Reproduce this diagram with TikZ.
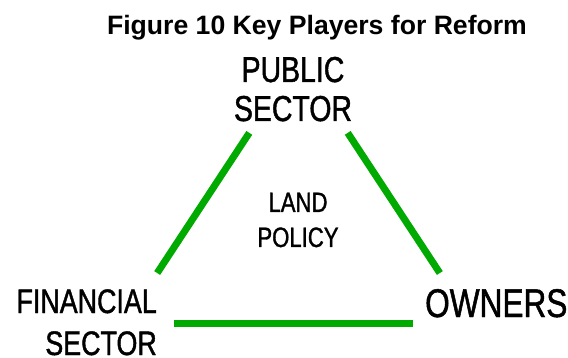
\documentclass[tikz,border=0pt]{standalone}
\usepackage{fontspec}
\setmainfont{Liberation Sans}
\newfontfamily\narrowfont[FakeStretch=0.79,FakeBold=1.2]{Liberation Sans}
\definecolor{sidegreen}{RGB}{0,170,0}

\begin{document}
\begin{tikzpicture}[x=1pt,y=-1pt,
  side/.style={draw=sidegreen,line width=7pt},
  player/.style={inner sep=0pt,align=center}]
\useasboundingbox (0,0) rectangle (568,358);
\node (title) [anchor=base,inner sep=0pt,font={\bfseries\fontsize{26.6}{30}\selectfont}] at (317,34.5) {Figure 10 Key Players for Reform};
\node (public) [player,anchor=base,font={\narrowfont\fontsize{36}{39}\selectfont}] at (293,121) {PUBLIC\\SECTOR};
\node (land) [player,anchor=base,font={\narrowfont\fontsize{28}{35}\selectfont}] at (298,247) {LAND\\POLICY};
\node (financial) [player,align=right,anchor=base east,font={\narrowfont\fontsize{34}{42}\selectfont}] at (157,355) {FINANCIAL\\SECTOR};
\node (owners) [player,anchor=base west,font={\narrowfont\fontsize{40}{44}\selectfont}] at (425,317) {OWNERS};
\coordinate (apex) at (298.5,58);
\coordinate (lft) at (124,323.5);
\coordinate (rgt) at (473,323.5);
\draw[side,shorten <=89.6pt,shorten >=60.4pt] (apex) -- (lft);
\draw[side,shorten <=89.6pt,shorten >=60.4pt] (apex) -- (rgt);
\draw[side,shorten <=50pt,shorten >=60pt] (lft) -- (rgt);
\end{tikzpicture}
\end{document}
